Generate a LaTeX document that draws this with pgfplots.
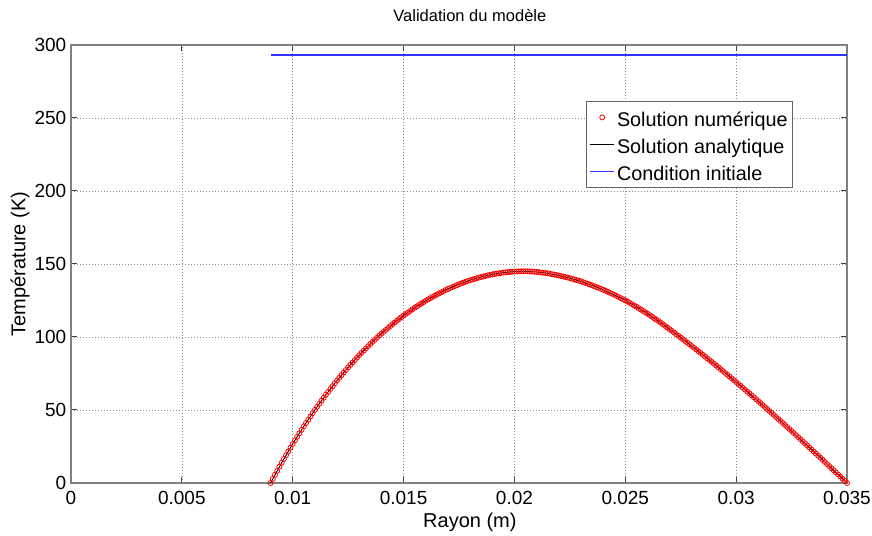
\documentclass[border=0pt]{standalone}
\usepackage{fontspec}
\setmainfont{Liberation Sans}
\usepackage{pgfplots}
\usepackage{pgfplotstable}
\pgfplotsset{compat=1.18}
\definecolor{initblue}{RGB}{50,50,255}
\definecolor{numred}{RGB}{255,0,0}
\pgfplotstableread{
r T
0.0090 0.00
0.0091 2.80
0.0092 5.60
0.0093 8.35
0.0094 11.10
0.0095 13.84
0.0096 16.43
0.0097 19.02
0.0098 21.61
0.0099 24.20
0.0100 26.78
0.0101 29.19
0.0102 31.60
0.0103 34.01
0.0104 36.42
0.0105 38.83
0.0106 41.08
0.0107 43.33
0.0108 45.57
0.0109 47.82
0.0110 50.07
0.0111 52.16
0.0112 54.25
0.0113 56.34
0.0114 58.43
0.0115 60.52
0.0116 62.46
0.0117 64.40
0.0118 66.35
0.0119 68.29
0.0120 70.23
0.0121 72.03
0.0122 73.83
0.0123 75.62
0.0124 77.42
0.0125 79.22
0.0126 80.88
0.0127 82.55
0.0128 84.21
0.0129 85.88
0.0130 87.54
0.0131 89.08
0.0132 90.61
0.0133 92.15
0.0134 93.68
0.0135 95.22
0.0136 96.63
0.0137 98.04
0.0138 99.46
0.0139 100.87
0.0140 102.28
0.0141 103.58
0.0142 104.87
0.0143 106.17
0.0144 107.46
0.0145 108.76
0.0146 109.94
0.0147 111.12
0.0148 112.29
0.0149 113.47
0.0150 114.65
0.0151 115.72
0.0152 116.79
0.0153 117.87
0.0154 118.94
0.0155 120.01
0.0156 120.97
0.0157 121.93
0.0158 122.90
0.0159 123.86
0.0160 124.82
0.0161 125.68
0.0162 126.54
0.0163 127.40
0.0164 128.26
0.0165 129.12
0.0166 129.87
0.0167 130.63
0.0168 131.38
0.0169 132.14
0.0170 132.89
0.0171 133.54
0.0172 134.19
0.0173 134.85
0.0174 135.50
0.0175 136.15
0.0176 136.70
0.0177 137.25
0.0178 137.81
0.0179 138.36
0.0180 138.91
0.0181 139.36
0.0182 139.81
0.0183 140.25
0.0184 140.70
0.0185 141.15
0.0186 141.50
0.0187 141.85
0.0188 142.20
0.0189 142.55
0.0190 142.90
0.0191 143.15
0.0192 143.39
0.0193 143.64
0.0194 143.88
0.0195 144.13
0.0196 144.27
0.0197 144.40
0.0198 144.54
0.0199 144.68
0.0200 144.82
0.0201 144.90
0.0202 144.95
0.0203 144.99
0.0204 145.00
0.0205 144.99
0.0206 144.95
0.0207 144.89
0.0208 144.81
0.0209 144.71
0.0210 144.58
0.0211 144.39
0.0212 144.19
0.0213 144.00
0.0214 143.80
0.0215 143.61
0.0216 143.31
0.0217 143.01
0.0218 142.72
0.0219 142.42
0.0220 142.12
0.0221 141.76
0.0222 141.40
0.0223 141.05
0.0224 140.69
0.0225 140.33
0.0226 139.88
0.0227 139.43
0.0228 138.98
0.0229 138.53
0.0230 138.08
0.0231 137.54
0.0232 137.00
0.0233 136.47
0.0234 135.93
0.0235 135.39
0.0236 134.79
0.0237 134.19
0.0238 133.60
0.0239 133.00
0.0240 132.40
0.0241 131.71
0.0242 131.01
0.0243 130.32
0.0244 129.62
0.0245 128.93
0.0246 128.16
0.0247 127.40
0.0248 126.63
0.0249 125.87
0.0250 125.10
0.0251 124.23
0.0252 123.36
0.0253 122.49
0.0254 121.62
0.0255 120.75
0.0256 119.80
0.0257 118.85
0.0258 117.89
0.0259 116.94
0.0260 115.99
0.0261 114.96
0.0262 113.94
0.0263 112.91
0.0264 111.89
0.0265 110.86
0.0266 109.76
0.0267 108.66
0.0268 107.56
0.0269 106.46
0.0270 105.36
0.0271 104.21
0.0272 103.07
0.0273 101.92
0.0274 100.78
0.0275 99.63
0.0276 98.46
0.0277 97.29
0.0278 96.11
0.0279 94.94
0.0280 93.77
0.0281 92.58
0.0282 91.39
0.0283 90.20
0.0284 89.01
0.0285 87.82
0.0286 86.59
0.0287 85.37
0.0288 84.14
0.0289 82.92
0.0290 81.69
0.0291 80.45
0.0292 79.21
0.0293 77.97
0.0294 76.73
0.0295 75.49
0.0296 74.22
0.0297 72.95
0.0298 71.68
0.0299 70.41
0.0300 69.14
0.0301 67.84
0.0302 66.54
0.0303 65.25
0.0304 63.95
0.0305 62.65
0.0306 61.33
0.0307 60.01
0.0308 58.68
0.0309 57.36
0.0310 56.04
0.0311 54.70
0.0312 53.35
0.0313 52.01
0.0314 50.66
0.0315 49.32
0.0316 47.96
0.0317 46.59
0.0318 45.23
0.0319 43.86
0.0320 42.50
0.0321 41.12
0.0322 39.74
0.0323 38.36
0.0324 36.98
0.0325 35.60
0.0326 34.20
0.0327 32.80
0.0328 31.40
0.0329 30.00
0.0330 28.60
0.0331 27.19
0.0332 25.78
0.0333 24.36
0.0334 22.95
0.0335 21.54
0.0336 20.12
0.0337 18.70
0.0338 17.27
0.0339 15.85
0.0340 14.43
0.0341 12.99
0.0342 11.55
0.0343 10.11
0.0344 8.68
0.0345 7.24
0.0346 5.79
0.0347 4.34
0.0348 2.90
0.0349 1.45
0.0350 0.00
}\numerique
\pgfplotstableread{
r T
0.0090 0.00
0.0095 13.84
0.0100 26.78
0.0105 38.83
0.0110 50.07
0.0115 60.52
0.0120 70.23
0.0125 79.22
0.0130 87.54
0.0135 95.22
0.0140 102.28
0.0145 108.76
0.0150 114.65
0.0155 120.01
0.0160 124.82
0.0165 129.12
0.0170 132.89
0.0175 136.15
0.0180 138.91
0.0185 141.15
0.0190 142.90
0.0195 144.13
0.0200 144.82
0.0204 145.00
0.0210 144.58
0.0215 143.61
0.0220 142.12
0.0225 140.33
0.0230 138.08
0.0235 135.39
0.0240 132.40
0.0245 128.93
0.0250 125.10
0.0255 120.75
0.0260 115.99
0.0265 110.86
0.0270 105.36
0.0275 99.63
0.0280 93.77
0.0285 87.82
0.0290 81.69
0.0295 75.49
0.0300 69.14
0.0305 62.65
0.0310 56.04
0.0315 49.32
0.0320 42.50
0.0325 35.60
0.0330 28.60
0.0335 21.54
0.0340 14.43
0.0345 7.24
0.0350 0.00
}\analytique
\pgfplotstableread{
r T
0.009 293
0.035 293
}\initiale
\begin{document}
\begin{tikzpicture}
\begin{axis}[
  scale only axis,
  width=776pt, height=438pt,
  xmin=0, xmax=0.035, ymin=0, ymax=300,
  xtick={0,0.005,0.01,0.015,0.02,0.025,0.03,0.035},
  xticklabels={0,0.005,0.01,0.015,0.02,0.025,0.03,0.035},
  ytick={0,50,100,150,200,250,300},
  yticklabels={0,50,100,150,200,250,300},
  scaled x ticks=false,
  tick align=inside,
  tick pos=both,
  major tick length=6pt,
  grid=major,
  grid style={black!45, line width=0.7pt, dash pattern=on 0.8pt off 2.2pt},
  axis line style={black!50, line width=1.2pt},
  tick style={black!75, line width=1pt},
  tick label style={font=\fontsize{19}{22}\selectfont, inner sep=0pt},
  xticklabel shift=8.5pt,
  yticklabel shift=4.5pt,
  title={Validation du modèle},
  title style={font=\fontsize{16.5}{20}\selectfont, at={(axis description cs:0.514,1.0525)}, anchor=center},
  xlabel={Rayon (m)},
  xlabel style={font=\fontsize{20}{23}\selectfont, at={(axis description cs:0.514,-0.089)}, anchor=center},
  ylabel={Température (K)},
  ylabel style={font=\fontsize{20}{23}\selectfont, at={(axis description cs:-0.0657,0.5)}, anchor=center},
  clip=false,
  legend cell align=left,
  legend style={at={(0.6637,0.8721)}, anchor=north west, draw=black!60, line width=0.8pt, fill=white,
    font=\fontsize{19.8}{23}\selectfont, inner xsep=3pt, inner ysep=4pt, row sep=3pt,
    nodes={text height=19pt, text depth=1pt}},
  legend image code/.code={\draw[mark repeat=2,mark phase=2,#1] plot coordinates {(0pt,0pt) (12pt,0pt) (24pt,0pt)};},
]
\addplot[color=numred, only marks, mark=o, mark size=2.5pt, mark options={draw=numred, line width=0.8pt}] table[x=r,y=T] {\numerique};
\addlegendentry{Solution numérique}
\addplot[color=black, solid, mark=none, line width=0.9pt] table[x=r,y=T] {\analytique};
\addlegendentry{Solution analytique}
\addplot[color=initblue, solid, mark=none, line width=1.6pt] table[x=r,y=T] {\initiale};
\addlegendentry{Condition initiale}
\coordinate (sw) at (rel axis cs:0,0);
\coordinate (ne) at (rel axis cs:1,1);
\end{axis}
\pgfresetboundingbox
\path[use as bounding box] ([xshift=-71pt,yshift=-53pt]sw) rectangle ([xshift=25pt,yshift=45pt]ne);
\end{tikzpicture}
\end{document}
